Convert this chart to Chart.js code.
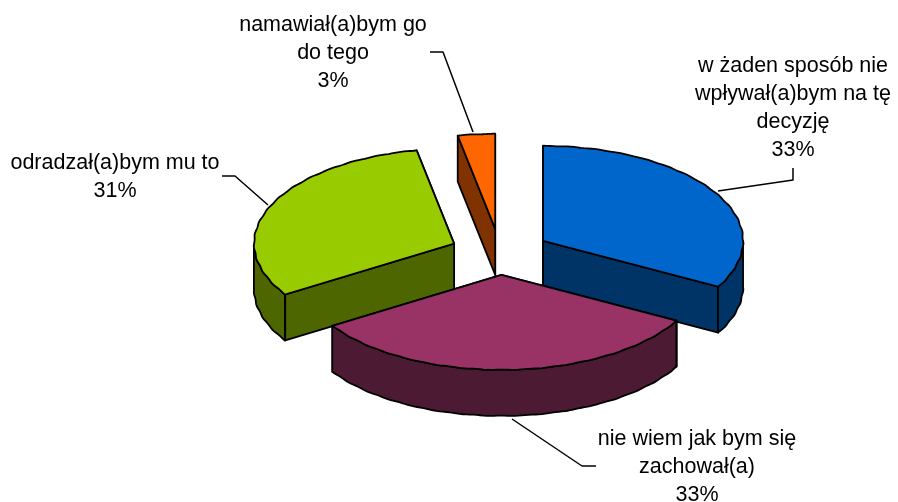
<!DOCTYPE html>
<html>
<head>
<meta charset="utf-8">
<style>html,body{margin:0;padding:0;background:#fff}canvas{display:block}</style>
<script src="https://cdn.jsdelivr.net/npm/chart.js@4"></script>
</head>
<body>
<canvas id="c" width="898" height="502"></canvas>
<script>
const categories = ["w żaden sposób nie wpływał(a)bym na tę decyzję", "nie wiem jak bym się zachował(a)", "odradzał(a)bym mu to", "namawiał(a)bym go do tego"];
const values = [33, 33, 31, 3];
const topColors = ["#0066CC", "#993366", "#99CC00", "#FF6600"];
const sideColors = ["#003366", "#4D1A33", "#4D6600", "#803300"];
const labelLines = [
  ["w żaden sposób nie", "wpływał(a)bym na tę", "decyzję", "33%"],
  ["nie wiem jak bym się", "zachował(a)", "33%"],
  ["odradzał(a)bym mu to", "31%"],
  ["namawiał(a)bym go", "do tego", "3%"]
];
const labelAnchors = [[793, 66], [697, 439], [115, 163], [333, 25]];
const leaders = [
  [[718, 191], [793, 180], [793, 168]],
  [[512, 419], [582, 466], [596, 466]],
  [[222, 176], [235, 176], [268, 205]],
  [[430, 52], [443, 52], [473, 132]]
];
const tilt = 0.475, depth = 46, lineW = 1.8;
const explode = [50, 46, 50, 51];
const paintOrder = [3, 2, 0, 1];

const pie3d = {
  id: 'pie3d',
  beforeDatasetsDraw(chart) {
    const ctx = chart.ctx, arcs = chart.getDatasetMeta(0).data;
    const stroke = () => { ctx.lineWidth = lineW; ctx.lineJoin = 'round'; ctx.strokeStyle = '#000'; ctx.stroke(); };
    paintOrder.forEach(i => {
      const a = arcs[i], r = a.outerRadius, s = a.startAngle, e = a.endAngle, mid = (s + e) / 2;
      const cx = a.x + Math.cos(mid) * explode[i], cy = a.y + Math.sin(mid) * explode[i] * tilt;
      // rim with the very slightly wavy edge of the reference
      const rr = t => r + 0.4 * Math.sin(t * 47);
      const px = t => cx + Math.cos(t) * rr(t), py = t => cy + Math.sin(t) * rr(t) * tilt;
      const ex = t => cx + Math.cos(t) * r, ey = t => cy + Math.sin(t) * r * tilt;
      const face = t => {
        ctx.beginPath();
        ctx.moveTo(cx, cy); ctx.lineTo(ex(t), ey(t));
        ctx.lineTo(ex(t), ey(t) + depth); ctx.lineTo(cx, cy + depth); ctx.closePath();
        ctx.fillStyle = sideColors[i]; ctx.fill(); stroke();
      };
      face(e); face(s);
      const norm = t => { while (t < 0) t += 2 * Math.PI; while (t > 2 * Math.PI) t -= 2 * Math.PI; return t; };
      const pts = [];
      const steps = 120;
      for (let k = 0; k <= steps; k++) {
        const t = s + (e - s) * k / steps;
        if (norm(t) <= Math.PI) pts.push(t);
      }
      if (pts.length > 1) {
        ctx.beginPath();
        pts.forEach((t, k) => k ? ctx.lineTo(px(t), py(t)) : ctx.moveTo(px(t), py(t)));
        pts.slice().reverse().forEach(t => ctx.lineTo(px(t), py(t) + depth));
        ctx.closePath();
        ctx.fillStyle = sideColors[i]; ctx.fill(); stroke();
      }
      ctx.save();
      ctx.translate(cx, cy); ctx.scale(1, tilt); ctx.translate(-a.x, -a.y);
      a.draw(ctx);
      ctx.restore();
      ctx.beginPath();
      ctx.moveTo(cx, cy);
      for (let k = 0; k <= steps; k++) { const t = s + (e - s) * k / steps; ctx.lineTo(px(t), py(t)); }
      ctx.closePath();
      stroke();
    });
    return false;
  },
  afterDraw(chart) {
    const ctx = chart.ctx;
    ctx.save();
    ctx.strokeStyle = '#000'; ctx.lineWidth = 1.5;
    leaders.forEach(l => {
      ctx.beginPath();
      l.forEach((p, k) => k ? ctx.lineTo(p[0], p[1]) : ctx.moveTo(p[0], p[1]));
      ctx.stroke();
    });
    ctx.fillStyle = '#000';
    ctx.font = '21.5px "Liberation Sans", Arial, sans-serif';
    ctx.textAlign = 'center'; ctx.textBaseline = 'middle';
    labelLines.forEach((lines, i) => lines.forEach((t, k) => ctx.fillText(t, labelAnchors[i][0], labelAnchors[i][1] + k * 28)));
    ctx.restore();
  }
};

new Chart(document.getElementById('c'), {
  type: 'pie',
  data: { labels: categories, datasets: [{ data: values, backgroundColor: topColors, borderWidth: 0, radius: 200 }] },
  options: {
    responsive: false, animation: false,
    layout: { padding: { left: 102, top: 4 } },
    plugins: { legend: { display: false }, tooltip: { enabled: false } }
  },
  plugins: [pie3d]
});
</script>
</body>
</html>
